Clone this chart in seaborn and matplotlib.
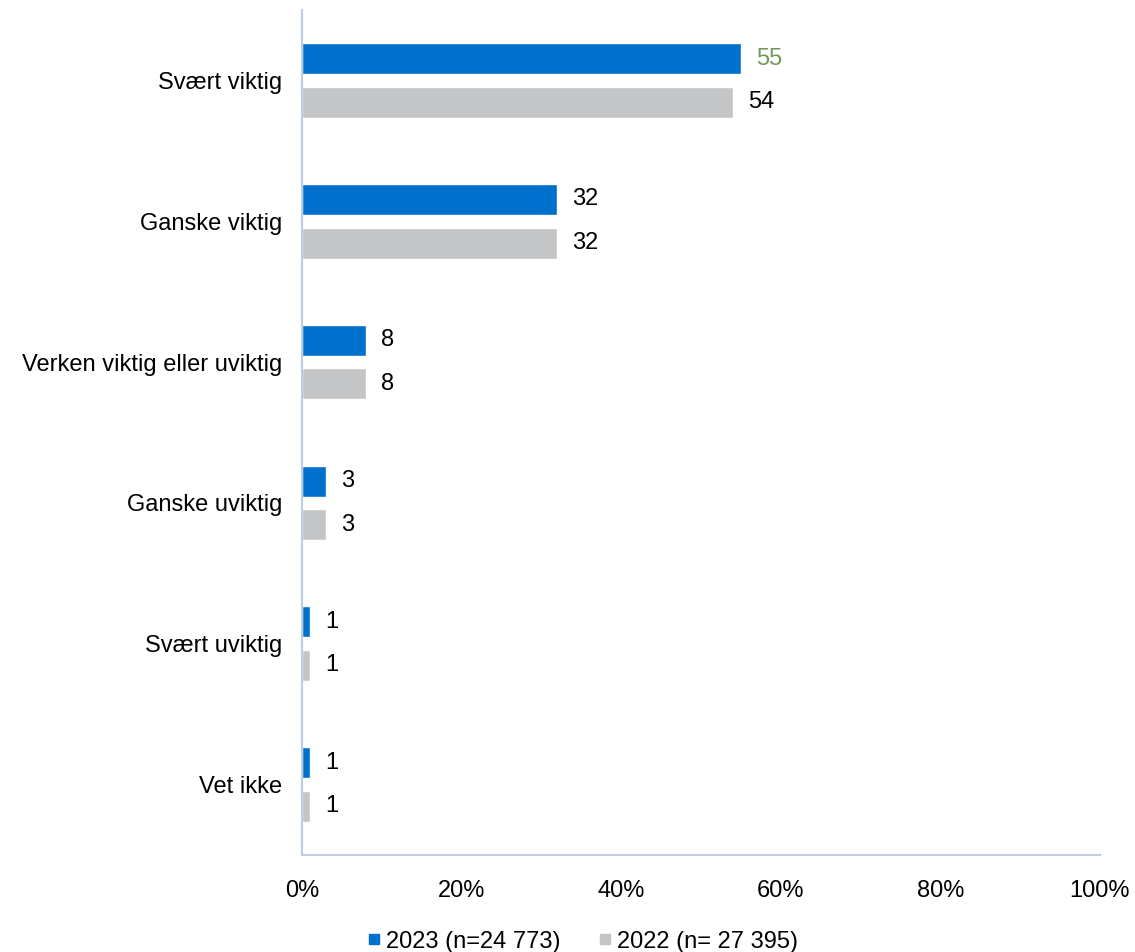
import matplotlib
matplotlib.use("Agg")
import matplotlib.pyplot as plt
import seaborn as sns
import pandas as pd
from matplotlib.lines import Line2D

categories = ["Svært viktig", "Ganske viktig", "Verken viktig eller uviktig",
              "Ganske uviktig", "Svært uviktig", "Vet ikke"]
series_names = ["2023 (n=24 773)", "2022 (n= 27 395)"]
values_2023 = [55, 32, 8, 3, 1, 1]
values_2022 = [54, 32, 8, 3, 1, 1]
xticks = [0, 20, 40, 60, 80, 100]
xtick_labels = ["0%", "20%", "40%", "60%", "80%", "100%"]

colors = ["#0070CD", "#C4C5C7"]

df = pd.DataFrame({
    "cat": categories * 2,
    "series": [series_names[0]] * len(categories) + [series_names[1]] * len(categories),
    "val": values_2023 + values_2022,
})

sns.set_theme(style="white")
plt.rcParams["font.family"] = ["Liberation Sans", "DejaVu Sans"]
plt.rcParams["text.color"] = "black"
plt.rcParams["xtick.color"] = "black"
plt.rcParams["ytick.color"] = "black"

FS = 17

fig = plt.figure(figsize=(11.35, 9.52), dpi=100)
ax = fig.add_axes([0.266, 0.102, 0.703, 0.8875])

sns.barplot(data=df, y="cat", x="val", hue="series", order=categories,
            hue_order=series_names, palette=colors, width=0.62, gap=0.29,
            orient="h", ax=ax, legend=False, saturation=1, errorbar=None)

ax.set_xlim(0, 100)
ax.set_xticks(xticks)
ax.set_xticklabels(xtick_labels, fontsize=FS)
ax.tick_params(axis="y", labelsize=FS, length=0, pad=14, labelcolor="black")
ax.tick_params(axis="x", length=0, pad=18, labelcolor="black")
ax.set_xlabel("")
ax.set_ylabel("")
for s in ["top", "right"]:
    ax.spines[s].set_visible(False)
for s in ["left", "bottom"]:
    ax.spines[s].set_color("#BFCDE2")
    ax.spines[s].set_linewidth(1.5)

label_colors = {(0, 0): "#6E9A5A"}
for si, cont in enumerate(ax.containers):
    for ci, bar in enumerate(cont):
        w = bar.get_width()
        y = bar.get_y() + bar.get_height() / 2
        ax.text(w + 1.9, y, f"{w:g}", va="center", ha="left", fontsize=FS,
                color=label_colors.get((si, ci), "black"))

handles = [Line2D([0], [0], marker="s", linestyle="", markersize=7,
                  markerfacecolor=c, markeredgecolor=c) for c in colors]
fig.legend(handles, series_names, loc="lower center", bbox_to_anchor=(0.511, -0.023),
           ncol=2, frameon=False, fontsize=FS, handletextpad=0.0, columnspacing=1.4,
           handlelength=1.0)

fig.savefig("out.png", dpi=100)
